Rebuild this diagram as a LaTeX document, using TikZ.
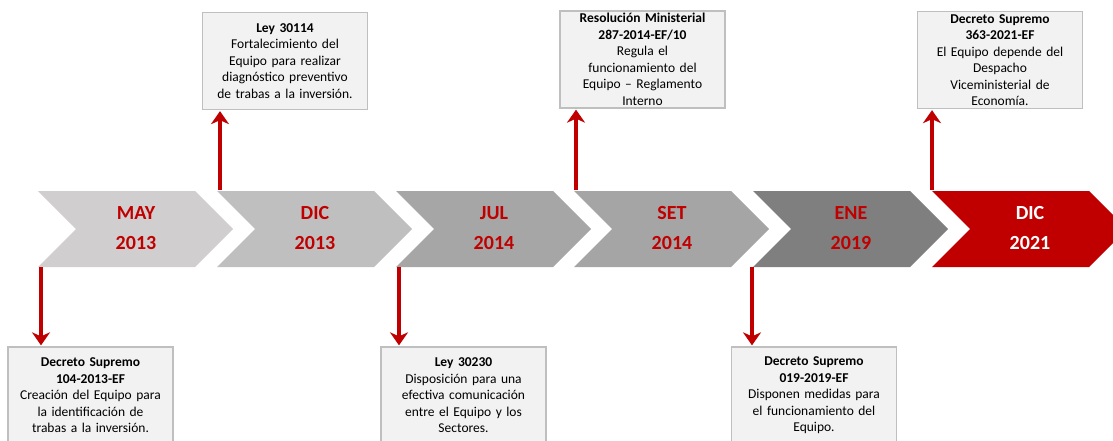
\documentclass[tikz,border=0pt]{standalone}
\usepackage{fontspec}
\setmainfont{Carlito}
\usetikzlibrary{arrows.meta}
\definecolor{rojo}{HTML}{C00000}
\definecolor{boxfill}{HTML}{F2F2F2}
\definecolor{boxline}{HTML}{BFBFBF}
\definecolor{chA}{HTML}{D0CECE}
\definecolor{chB}{HTML}{BFBFBF}
\definecolor{chC}{HTML}{A6A6A6}
\definecolor{chD}{HTML}{A5A5A5}
\definecolor{chE}{HTML}{7F7F7F}
\definecolor{chF}{HTML}{C00000}
\newcommand\mychev[2]{\fill[#2] (#1,191) -- ({#1+157},191) -- ({#1+195},229) -- ({#1+157},267) -- (#1,267) -- ({#1+38},229) -- cycle;}
\begin{document}
\begin{tikzpicture}[x=1pt,y=-1pt,
  infobox/.style={draw=boxline, fill=boxfill, line width=1.3pt, minimum width=165pt, minimum height=97pt, text width=160pt, align=center, inner sep=0pt, font=\fontsize{13.5}{16.5}\selectfont},
  datelbl/.style={font=\fontsize{20}{30}\selectfont\bfseries, text=rojo, align=center},
  conn/.style={draw=rojo, line width=4pt, -{Stealth[length=13pt,width=18pt,inset=4pt]}}]
\useasboundingbox (0,0) rectangle (1113,441);
\clip (0,0) rectangle (1113,441);
% chevrons
\mychev{38}{chA}
\mychev{217}{chB}
\mychev{396}{chC}
\mychev{574}{chD}
\mychev{753}{chE}
\mychev{932}{chF}
% date labels
\node[datelbl] (d1) at (136,228) {MAY\\2013};
\node[datelbl] (d2) at (315,228) {DIC\\2013};
\node[datelbl] (d3) at (494,228) {JUL\\2014};
\node[datelbl] (d4) at (672,228) {SET\\2014};
\node[datelbl] (d5) at (851,228) {ENE\\2019};
\node[datelbl, text=white] (d6) at (1030,228) {DIC\\2021};
% boxes
\node[infobox] (b1) at (90.5,395.5) {\textbf{Decreto Supremo}\\\textbf{104-2013-EF}\\Creación del Equipo para\\la identificación de\\trabas a la inversión.};
\node[infobox] (b2) at (285,61) {\textbf{Ley 30114}\\Fortalecimiento del\\Equipo para realizar\\diagnóstico preventivo\\de trabas a la inversión.};
\node[infobox] (b3) at (463.5,395.5) {\textbf{Ley 30230}\\Disposición para una\\efectiva comunicación\\entre el Equipo y los\\Sectores.};
\node[infobox] (b4) at (642.5,59.5) {\textbf{Resolución Ministerial}\\\textbf{287-2014-EF/10}\\Regula el\\funcionamiento del\\Equipo – Reglamento\\Interno};
\node[infobox] (b5) at (814,395.5) {\textbf{Decreto Supremo}\\\textbf{019-2019-EF}\\Disponen medidas para\\el funcionamiento del\\Equipo.};
\node[infobox] (b6) at (1000,60) {\textbf{Decreto Supremo}\\\textbf{363-2021-EF}\\El Equipo depende del\\Despacho\\Viceministerial de\\Economía.};
% arrow anchors on chevrons
\coordinate (a1) at (41,267);
\coordinate (a2) at (220,190);
\coordinate (a3) at (399,267);
\coordinate (a4) at (576,190);
\coordinate (a5) at (752,267);
\coordinate (a6) at (932,190);
\draw[conn] (a1) -- ([yshift=1pt]a1 |- b1.north);
\draw[conn] (a2) -- ([yshift=-1pt]a2 |- b2.south);
\draw[conn] (a3) -- ([yshift=1pt]a3 |- b3.north);
\draw[conn] (a4) -- ([yshift=-1pt]a4 |- b4.south);
\draw[conn] (a5) -- ([yshift=1pt]a5 |- b5.north);
\draw[conn] (a6) -- ([yshift=-1pt]a6 |- b6.south);
\end{tikzpicture}
\end{document}
